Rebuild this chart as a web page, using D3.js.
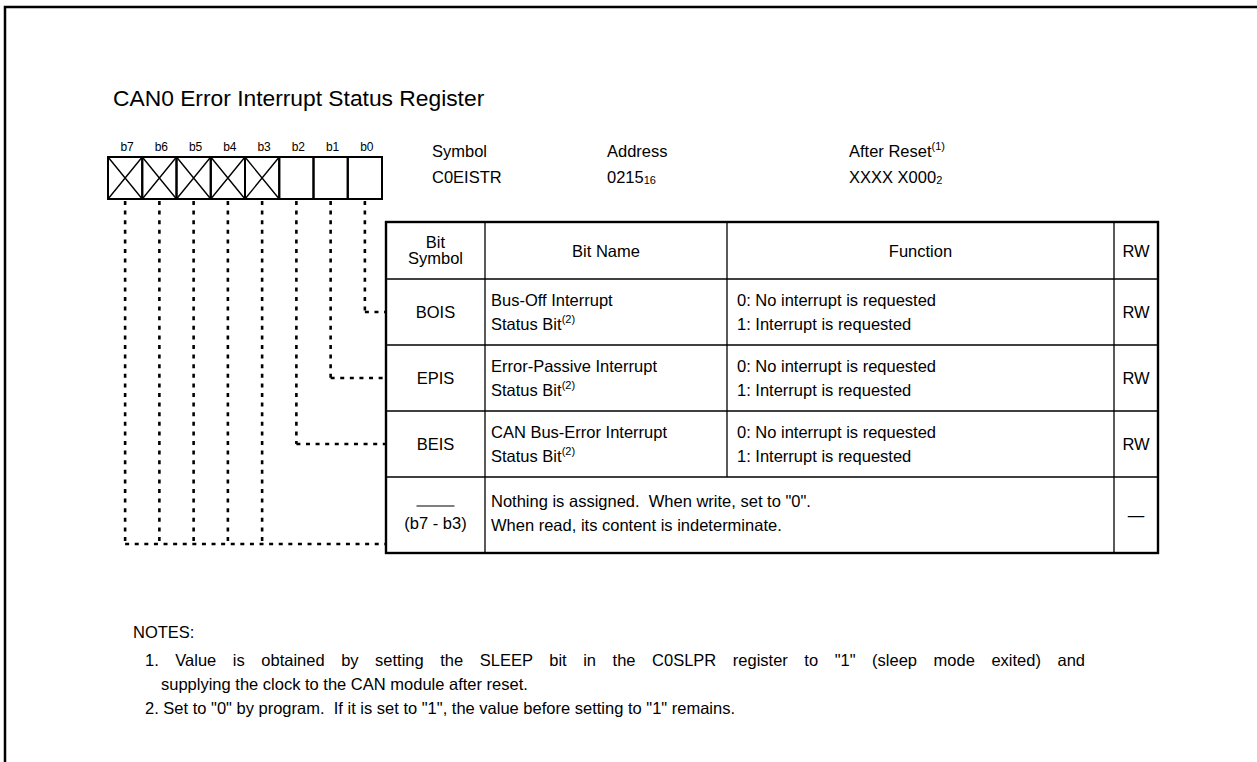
<!DOCTYPE html>
<html><head><meta charset="utf-8">
<script src="https://cdn.jsdelivr.net/npm/d3@7/dist/d3.min.js"></script>
<style>
html,body{margin:0;padding:0;background:#fff;}
svg text{font-family:"Liberation Sans",Arial,sans-serif;fill:#000;white-space:pre;}
</style></head>
<body><svg id="c" width="1257" height="762"></svg>
<script>
// ---- data ----
const title = "CAN0 Error Interrupt Status Register";
const bitLabels = ["b7","b6","b5","b4","b3","b2","b1","b0"];
const bitReserved = [true,true,true,true,true,false,false,false];
const infoLabels = ["Symbol","Address","After Reset"];
const infoValues = ["C0EISTR","0215","XXXX X000"];
const infoSubs = ["","16","2"];
const infoSups = ["","","(1)"];
const colHeads = [["Bit","Symbol"],["Bit Name"],["Function"],["RW"]];
const rowSymbols = ["BOIS","EPIS","BEIS","(b7 - b3)"];
const rowBits = [["b0"],["b1"],["b2"],["b7","b6","b5","b4","b3"]];
const rowNames = [["Bus-Off Interrupt","Status Bit"],["Error-Passive Interrupt","Status Bit"],["CAN Bus-Error Interrupt","Status Bit"],[]];
const rowNameNotes = ["(2)","(2)","(2)",""];
const rowFunctions = [["0: No interrupt is requested","1: Interrupt is requested"],["0: No interrupt is requested","1: Interrupt is requested"],["0: No interrupt is requested","1: Interrupt is requested"],["Nothing is assigned.  When write, set to \"0\".","When read, its content is indeterminate."]];
const rowRW = ["RW","RW","RW","\u2014"];
const notesHead = "NOTES:";
const notes = [
  ["1. Value is obtained by setting the SLEEP bit in the C0SLPR register to \"1\" (sleep mode exited) and","supplying the clock to the CAN module after reset."],
  ["2. Set to \"0\" by program.  If it is set to \"1\", the value before setting to \"1\" remains."]
];

// ---- layout ----
const svg = d3.select("#c");
const F = 16.5;
const infoX = [432,607,849];
const notesRight = 1085;

svg.append("path").attr("d","M5,762V7H1257").attr("fill","none").attr("stroke","#000").attr("stroke-width",2.5);
svg.append("text").attr("x",113).attr("y",106).attr("font-size",22.8).text(title);

// bit boxes
const xb = d3.scaleBand().domain(bitLabels).range([108,382]).padding(0);
const boxTop = 157, boxBot = 199;
const bg = svg.append("g");
bitLabels.forEach((b,i)=>{
  const x0 = xb(b), w = xb.bandwidth();
  bg.append("text").attr("x",x0+w/2+2).attr("y",151).attr("text-anchor","middle").attr("font-size",12).text(b);
  bg.append("rect").attr("x",x0).attr("y",boxTop).attr("width",w).attr("height",boxBot-boxTop)
    .attr("fill","none").attr("stroke","#000").attr("stroke-width",2);
  if(bitReserved[i]){
    bg.append("path").attr("d",`M${x0},${boxTop}L${x0+w},${boxBot}M${x0+w},${boxTop}L${x0},${boxBot}`)
      .attr("stroke","#000").attr("stroke-width",1.4);
  }
});

// header info
infoLabels.forEach((d,i)=>{
  const t = svg.append("text").attr("x",infoX[i]).attr("y",157).attr("font-size",F);
  t.append("tspan").text(d);
  if(infoSups[i]) t.append("tspan").attr("font-size",11).attr("dy",-7).text(infoSups[i]);
  const v = svg.append("text").attr("x",infoX[i]).attr("y",183).attr("font-size",F);
  v.append("tspan").text(infoValues[i]);
  if(infoSubs[i]) v.append("tspan").attr("font-size",11).attr("dy",1).text(infoSubs[i]);
});

// table
const colEdges = [386,485,727,1114,1158];
const rowEdges = [222,279,345,411,477,553];
const tg = svg.append("g");
for(let i=1;i<colEdges.length-1;i++){
  const yEnd = i===2 ? rowEdges[4] : rowEdges[5];
  tg.append("line").attr("x1",colEdges[i]).attr("x2",colEdges[i]).attr("y1",rowEdges[0]).attr("y2",yEnd).attr("stroke","#000").attr("stroke-width",1.3);
}
for(let j=1;j<rowEdges.length-1;j++){
  tg.append("line").attr("x1",colEdges[0]).attr("x2",colEdges[colEdges.length-1]).attr("y1",rowEdges[j]).attr("y2",rowEdges[j]).attr("stroke","#000").attr("stroke-width",1.3);
}
tg.append("rect").attr("x",colEdges[0]).attr("y",rowEdges[0]).attr("width",colEdges[4]-colEdges[0]).attr("height",rowEdges[5]-rowEdges[0])
  .attr("fill","none").attr("stroke","#000").attr("stroke-width",2.4);

const cx = i => (colEdges[i]+colEdges[i+1])/2;
const cy = j => (rowEdges[j]+rowEdges[j+1])/2;
colHeads.forEach((lines,i)=>{
  lines.forEach((s,k)=>{
    const off = lines.length===1?0:(k===0?-9:7);
    tg.append("text").attr("x",cx(i)).attr("y",cy(0)+off+6).attr("text-anchor","middle").attr("font-size",F).text(s);
  });
});
const LS = 24;
rowSymbols.forEach((s,r)=>{
  const yc = cy(r+1);
  if(r<3){
    tg.append("text").attr("x",cx(0)).attr("y",yc+6).attr("text-anchor","middle").attr("font-size",F).text(s);
    rowNames[r].forEach((n,k)=>{
      const t = tg.append("text").attr("x",colEdges[1]+6).attr("y",yc-LS/2+6+k*LS).attr("font-size",F);
      t.append("tspan").text(n);
      if(k===1 && rowNameNotes[r]) t.append("tspan").attr("font-size",11).attr("dy",-7).text(rowNameNotes[r]);
    });
    rowFunctions[r].forEach((n,k)=>{
      tg.append("text").attr("x",colEdges[2]+10).attr("y",yc-LS/2+6+k*LS).attr("font-size",F).text(n);
    });
  } else {
    tg.append("line").attr("x1",cx(0)-19).attr("x2",cx(0)+19).attr("y1",yc-9).attr("y2",yc-9).attr("stroke","#000").attr("stroke-width",1.2);
    tg.append("text").attr("x",cx(0)).attr("y",yc+14).attr("text-anchor","middle").attr("font-size",F).text(s);
    rowFunctions[r].forEach((n,k)=>{
      tg.append("text").attr("x",colEdges[1]+6).attr("y",yc-LS/2+4+k*LS).attr("font-size",F).text(n);
    });
  }
  tg.append("text").attr("x",cx(3)).attr("y",yc+6).attr("text-anchor","middle").attr("font-size",F).text(rowRW[r]);
});

// dashed leaders
const dg = svg.append("g").attr("fill","none").attr("stroke","#000").attr("stroke-width",2.6).attr("stroke-dasharray","4,5.6");
const leaderY = [cy(1),cy(2),cy(3),rowEdges[5]-9];
rowBits.forEach((bits,r)=>{
  bits.forEach(b=>{
    const x = xb(b)+xb.bandwidth()/2;
    dg.append("path").attr("d",`M${x},${boxBot+2}V${leaderY[r]}`);
  });
  const xmin = d3.min(bits,b=>xb(b)+xb.bandwidth()/2);
  dg.append("path").attr("d",`M${xmin},${leaderY[r]}H${colEdges[0]-1}`);
});

// notes (justified paragraphs: non-final lines stretched to the right margin)
svg.append("text").attr("x",133).attr("y",638).attr("font-size",F).text(notesHead);
let ny = 666;
notes.forEach(n=>{
  n.forEach((s,k)=>{
    const x = k===0?145:161;
    const t = svg.append("text").attr("x",x).attr("y",ny).attr("font-size",F).text(s);
    if(k < n.length-1){
      const len = t.node().getComputedTextLength();
      const spaces = (s.match(/ /g)||[]).length;
      if(spaces>0 && len < notesRight - x) t.attr("word-spacing", (notesRight - x - len)/spaces);
    }
    ny += 24;
  });
});
</script></body></html>
